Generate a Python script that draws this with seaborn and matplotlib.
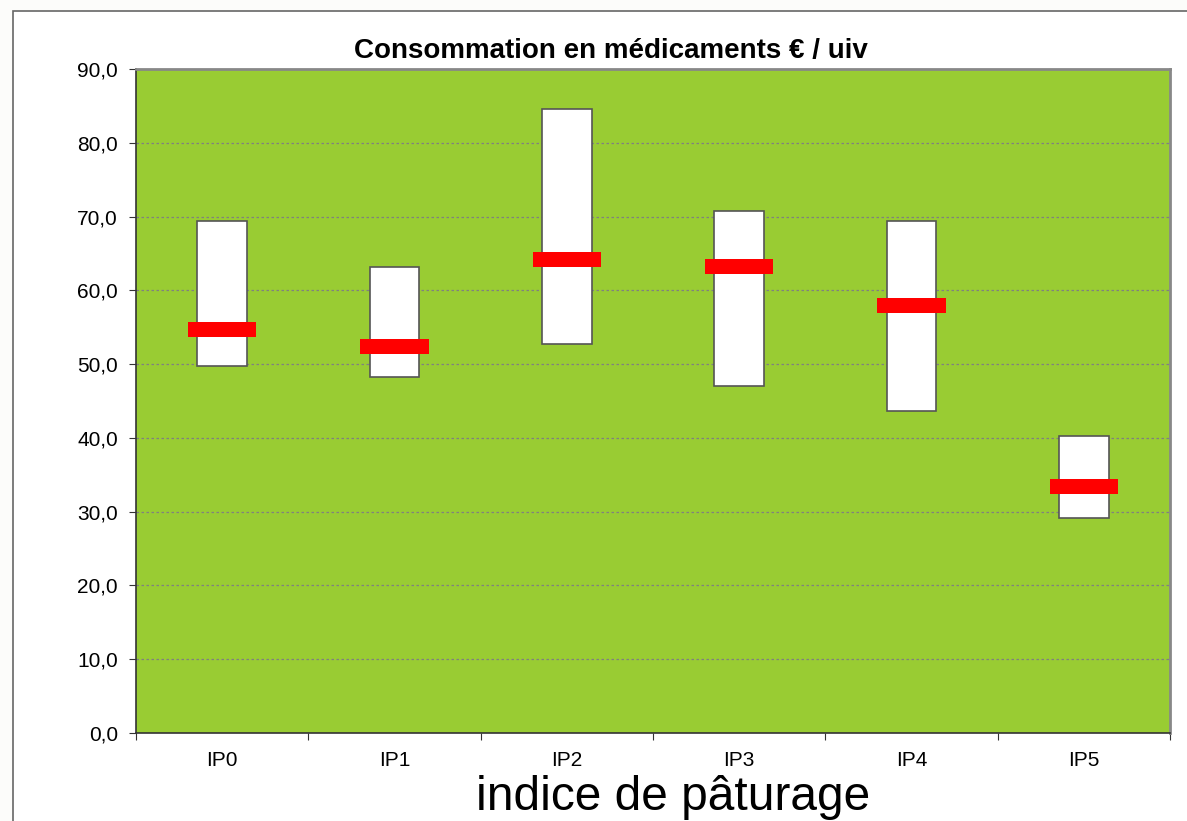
import matplotlib
matplotlib.use("Agg")
import matplotlib.pyplot as plt
import matplotlib.patches as mpatches
from matplotlib.ticker import FuncFormatter, FixedLocator
import seaborn as sns
import numpy as np
import pandas as pd

# data
categories = ['IP0', 'IP1', 'IP2', 'IP3', 'IP4', 'IP5']
low = [49.7, 48.3, 52.7, 47.1, 43.7, 29.2]
high = [69.4, 63.2, 84.6, 70.7, 69.4, 40.3]
median = [54.7, 52.4, 64.2, 63.2, 57.9, 33.4]

df = pd.DataFrame({'cat': categories, 'low': low, 'high': high, 'median': median})
df['span'] = df['high'] - df['low']
bar_thick = 2.0
df['mark'] = bar_thick

sns.set_style("white")
plt.rcParams['font.family'] = ['Liberation Sans', 'DejaVu Sans']
plt.rcParams['text.color'] = 'black'
plt.rcParams['xtick.color'] = 'black'
plt.rcParams['ytick.color'] = 'black'

fig = plt.figure(figsize=(11.87, 8.21), dpi=100)
fig.patch.set_facecolor('#fcfcfa')
# white chart area with gray frame
frame = mpatches.Rectangle((13 / 1187, -0.1), 1.2, 1 - 11 / 821 + 0.1,
                           transform=fig.transFigure, facecolor='white',
                           edgecolor='#666666', linewidth=1.2, zorder=-5)
fig.patches.append(frame)

ax = fig.add_axes([136 / 1187, 88 / 821, 1034 / 1187, 664 / 821])
ax.set_facecolor('#99cc33')

# range boxes
sns.barplot(data=df, x='cat', y='span', bottom=df['low'].to_numpy(), color='white',
            width=0.29, edgecolor='#555555', linewidth=1.2, saturation=1, ax=ax, zorder=3)
# median markers
sns.barplot(data=df, x='cat', y='mark', bottom=(df['median'] - bar_thick / 2).to_numpy(),
            color='#ff0000', width=0.395, linewidth=0, saturation=1, ax=ax, zorder=4)

ax.set_ylim(0, 90)
ax.set_xlim(-0.5, 5.5)
ax.set_yticks(np.arange(0, 91, 10))
ax.yaxis.set_major_formatter(FuncFormatter(lambda v, p: f'{v:.1f}'.replace('.', ',')))
for yv in np.arange(10, 90, 10):
    ax.axhline(yv, color='#808080', linewidth=0.9, linestyle=(0, (2, 2)), zorder=1)

ax.xaxis.set_minor_locator(FixedLocator(np.arange(-0.5, 6, 1)))
ax.tick_params(axis='x', which='major', length=0, pad=13, labelsize=15)
ax.tick_params(axis='x', which='minor', length=5, width=0.8, color='#333333', direction='out', bottom=True)
ax.tick_params(axis='y', length=5, width=0.8, color='#333333', direction='out', left=True, labelsize=15, pad=8)

for side in ['left', 'bottom']:
    ax.spines[side].set_color('#333333')
    ax.spines[side].set_linewidth(1.2)
for side in ['top', 'right']:
    ax.spines[side].set_color('#888888')
    ax.spines[side].set_linewidth(2)

ax.set_ylabel('')
ax.set_xlabel('')
fig.text(611 / 1187, 1 - 51 / 821, 'Consommation en médicaments € / uiv', ha='center', va='center',
         fontsize=20, fontweight='bold')
fig.text(673 / 1187, 1 - 797 / 821, 'indice de pâturage', ha='center', va='center', fontsize=34.5)

fig.savefig('out.png', dpi=100, facecolor=fig.get_facecolor())
